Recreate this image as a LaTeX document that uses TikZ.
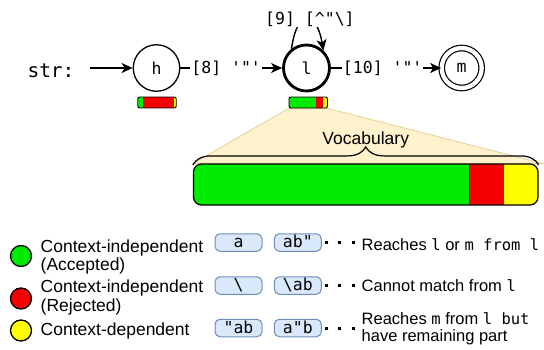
\documentclass[tikz,border=0pt]{standalone}
\usepackage{fontspec}
\setmainfont{Liberation Sans}
\setmonofont{DejaVu Sans Mono}
\usepackage{xcolor}
\definecolor{vocGreen}{RGB}{0, 235, 0}
\definecolor{vocRed}{RGB}{245, 0, 0}
\definecolor{vocYellow}{RGB}{255, 255, 0}
\definecolor{zoomFill}{RGB}{255, 242, 204}
\definecolor{zoomEdge}{RGB}{226, 210, 150}
\definecolor{tokFill}{RGB}{218, 232, 252}
\definecolor{tokEdge}{RGB}{108, 142, 191}
\usepackage{tikz}
\usetikzlibrary{
    arrows.meta,
    positioning,
    backgrounds,
    decorations.pathreplacing
}
\newcommand{\codeword}[1]{{\fontsize{15.5}{17}\selectfont\ttfamily #1}}

\begin{document}
\begin{tikzpicture}[
    x=1pt, y=1pt,
    stateNode/.style={
        circle, draw=black, line width=1.3pt,
        minimum size=46.5pt, inner sep=0pt,
        font=\fontsize{16.5}{18}\ttfamily
    },
    currentNode/.style={
        stateNode, line width=2.8pt, minimum size=46pt
    },
    acceptNode/.style={
        stateNode, double, line width=1.2pt,
        double distance=4.3pt, minimum size=40pt
    },
    startLabel/.style={
        font=\fontsize{19.5}{22}\ttfamily, inner sep=0pt
    },
    trans/.style={
        -{Stealth[length=11pt, width=10pt, inset=3pt]}, line width=1.4pt
    },
    edgeLabel/.style={
        fill=white, inner sep=1pt, font=\fontsize{16.5}{18}\ttfamily
    },
    miniBar/.style={
        draw=black, line width=0.9pt, rounded corners=2pt,
        minimum width=38.5pt, minimum height=11pt, inner sep=0pt
    },
    vocabBar/.style={
        draw=black, line width=1.2pt, rounded corners=8pt,
        minimum width=344.5pt, minimum height=41pt, inner sep=0pt
    },
    zoomArea/.style={
        fill=zoomFill, draw=zoomEdge, line width=0.8pt
    },
    vocabBrace/.style={
        decorate, decoration={brace, amplitude=18pt}, line width=1.2pt
    },
    sansText/.style={
        font=\fontsize{17.5}{18.5}\selectfont, inner sep=0pt
    },
    legendDot/.style={
        circle, draw=black, line width=1.3pt,
        minimum size=21pt, inner sep=0pt
    },
    legendText/.style={
        sansText, anchor=west, align=left
    },
    tokenBox/.style={
        rectangle, rounded corners=5pt,
        draw=tokEdge, line width=1pt, fill=tokFill,
        minimum width=47pt, text height=13pt, text depth=2.5pt,
        inner xsep=2pt, inner ysep=1pt,
        font=\fontsize{16.5}{18}\ttfamily
    },
    noteText/.style={
        anchor=west, align=left, inner sep=0pt,
        font=\fontsize{16.5}{17}\selectfont
    },
    dotLink/.style={
        line width=3pt, dash pattern=on 3pt off 10.5pt, dash phase=10.5pt
    }
]
    \useasboundingbox (0,0) rectangle (544,-349);

    % Automaton
    \node[startLabel] (str) at (51,-70.5) {str:};
    \coordinate (entry) at (90,-68);
    \node[stateNode] (h) at (156.5,-68) {h};
    \node[currentNode] (l) at (306.5,-68) {l};
    \node[acceptNode] (m) at (461.7,-68) {m};

    \draw[trans] (entry) -- (h);
    \draw[trans] (h) -- node[edgeLabel, pos=0.45] {[8] '"'} (l);
    \draw[trans] (l) -- node[edgeLabel, pos=0.47] {[10] '"'} (m);
    \draw[trans] (l.128) to[out=82, in=100, looseness=3.3]
        node[edgeLabel, xshift=3pt] {[9] [\textasciicircum"\textbackslash]} (l.46);

    % Token masks under h and l
    \begin{scope}
        \clip[rounded corners=2pt] (137.75,-97) rectangle (176.25,-108);
        \fill[vocGreen] (137.75,-97) rectangle (142.5,-108);
        \fill[vocRed] (142.5,-97) rectangle (174.3,-108);
        \fill[vocYellow] (174.3,-97) rectangle (176.25,-108);
    \end{scope}
    \node[miniBar] (hMask) at (157,-102.5) {};

    \begin{scope}
        \clip[rounded corners=2pt] (289,-97) rectangle (327.5,-108);
        \fill[vocGreen] (289,-97) rectangle (316,-108);
        \fill[vocRed] (316,-97) rectangle (323,-108);
        \fill[vocYellow] (323,-97) rectangle (327.5,-108);
    \end{scope}
    \node[miniBar] (lMask) at (308.25,-102.5) {};

    % Vocabulary
    \begin{scope}
        \clip[rounded corners=8pt] (193.5,-164) rectangle (538,-205);
        \fill[vocGreen] (193.5,-164) rectangle (469,-205);
        \fill[vocRed] (469,-164) rectangle (503.6,-205);
        \fill[vocYellow] (503.6,-164) rectangle (538,-205);
    \end{scope}
    \node[vocabBar] (vocab) at (365.75,-184.5) {};

    \begin{scope}[on background layer]
        \filldraw[zoomArea] (lMask.south west) -- (lMask.south east)
            -- ([xshift=4pt]vocab.north east) -- (vocab.north west) -- cycle;
    \end{scope}
    \draw[vocabBrace] ([yshift=-1.5pt]vocab.north west) -- ([yshift=-1.5pt]vocab.north east);
    \node[sansText, above=15pt of vocab] (vocabTitle) {Vocabulary};

    % Legend
    \node[legendDot, fill=vocGreen] (dotAcc) at (21,-256) {};
    \node[legendText] (txtAcc) at (40.5,-257) {Context-independent\\(Accepted)};
    \node[tokenBox] (tokA) at (238.5,-242.5) {a};
    \node[tokenBox] (tokAQ) at (297.8,-242.5) {ab"};
    \node[noteText] (noteAcc) at (361.5,-244.5) {Reaches \codeword{l} or \codeword{m from l}};
    \draw[dotLink] (tokAQ.east) -- (tokAQ.east -| noteAcc.west);

    \node[legendDot, fill=vocRed] (dotRej) at (21,-298.5) {};
    \node[legendText] (txtRej) at (40.5,-297.5) {Context-independent\\(Rejected)};
    \node[tokenBox] (tokBs) at (238.5,-285.5) {\textbackslash};
    \node[tokenBox] (tokBsAB) at (297.8,-285.5) {\textbackslash ab};
    \node[noteText] (noteRej) at (361.5,-286) {Cannot match from \codeword{l}};
    \draw[dotLink] (tokBsAB.east) -- (tokBsAB.east -| noteRej.west);

    \node[legendDot, fill=vocYellow] (dotDep) at (21,-330.5) {};
    \node[legendText] (txtDep) at (40.5,-330.5) {Context-dependent};
    \node[tokenBox] (tokQAB) at (238.5,-328) {"ab};
    \node[tokenBox] (tokAQB) at (297.8,-328) {a"b};
    \node[noteText] (noteDep) at (361.5,-329) {Reaches \codeword{m} from \codeword{l but}\\have remaining part};
    \draw[dotLink] (tokAQB.east) -- (tokAQB.east -| noteDep.west);

\end{tikzpicture}
\end{document}
